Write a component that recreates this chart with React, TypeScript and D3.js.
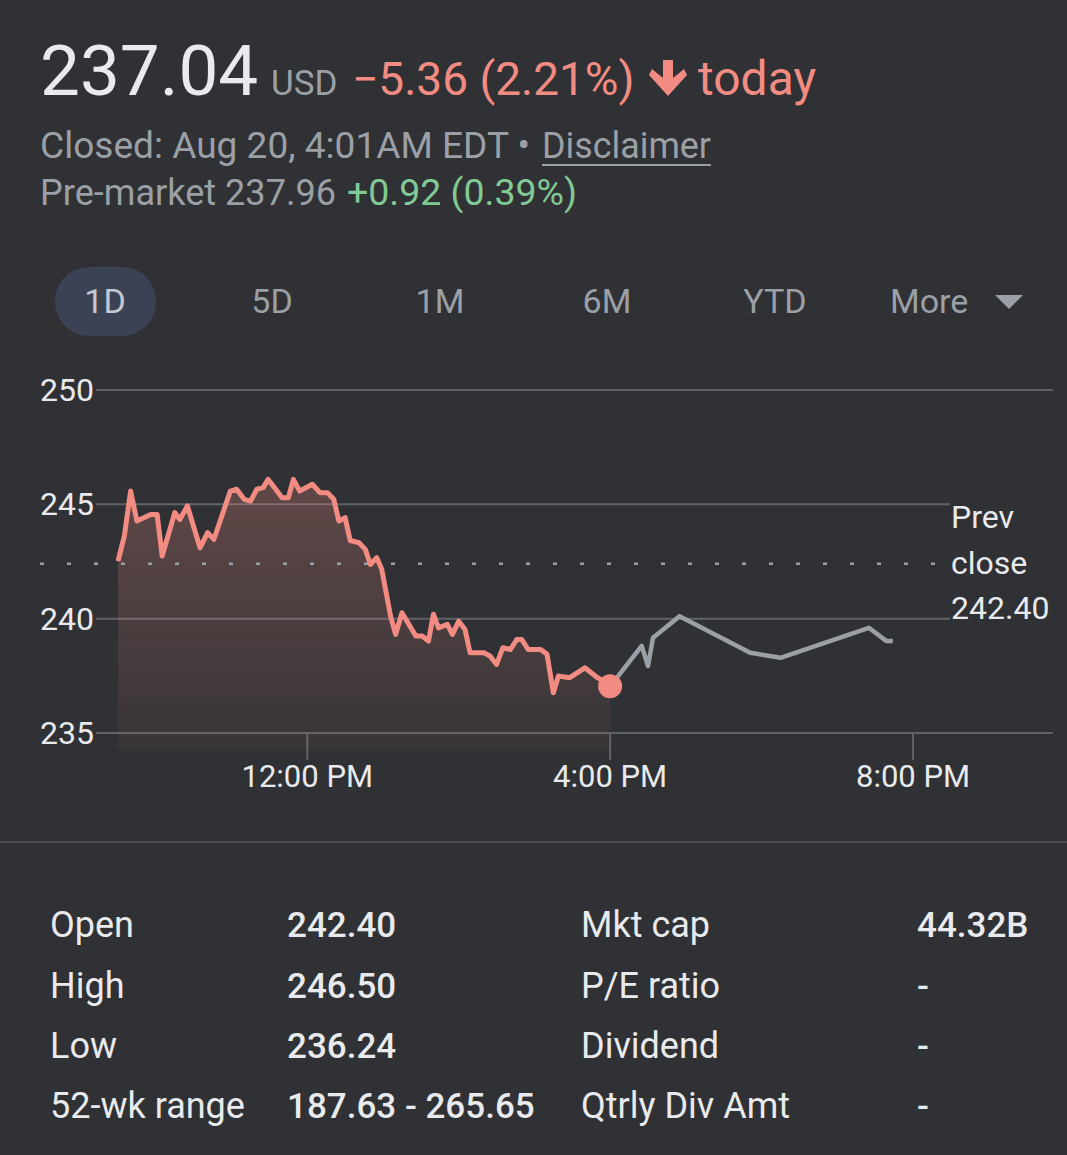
import React from "react";
import * as d3 from "d3";

// ---------- data ----------
const sessionTimes = [
  "9:30","9:35","9:40","9:45","9:56","10:01","10:05","10:15","10:19","10:25",
  "10:35","10:41","10:46","10:59","11:04","11:10","11:15","11:20","11:25","11:29",
  "11:35","11:40","11:45","11:49","11:54","12:04","12:10","12:16","12:21","12:25",
  "12:30","12:34","12:41","12:46","12:50","12:55","12:59","13:06","13:10","13:15",
  "13:19","13:26","13:31","13:36","13:40","13:44","13:51","13:55","14:00","14:05",
  "14:09","14:20","14:25","14:30","14:35","14:41","14:46","14:50","14:55","15:05",
  "15:10","15:15","15:19","15:28","15:40","15:50","15:59","16:00",
];
const sessionPrices = [
  242.52,243.61,245.58,244.27,244.56,244.56,242.74,244.64,244.34,244.93,
  243.10,243.76,243.47,245.58,245.66,245.22,245.14,245.66,245.73,246.09,
  245.66,245.29,245.29,246.09,245.58,245.88,245.51,245.51,245.22,244.27,
  244.42,243.42,243.32,243.03,242.37,242.67,242.16,240.11,239.31,240.26,
  239.89,239.24,239.24,239.02,240.19,239.60,239.75,239.31,239.89,239.53,
  238.51,238.51,238.36,238.00,238.73,238.65,239.09,239.09,238.65,238.65,
  238.44,236.76,237.49,237.42,237.85,237.42,237.12,237.04,
];
const afterTimes = ["16:00","16:25","16:30","16:34","16:55","17:51","18:15","19:25","19:39","19:44"];
const afterPrices = [237.04,238.81,237.93,239.17,240.11,238.51,238.29,239.60,239.02,239.02];

const prevClose = 242.40;
const yTicks = [235, 240, 245, 250];
const xTickTimes = ["12:00", "16:00", "20:00"];
const xTickLabels = ["12:00 PM", "4:00 PM", "8:00 PM"];
const tabs = ["1D", "5D", "1M", "6M", "YTD"];
const statLabelsLeft = ["Open", "High", "Low", "52-wk range"];
const statValuesLeft = ["242.40", "246.50", "236.24", "187.63 - 265.65"];
const statLabelsRight = ["Mkt cap", "P/E ratio", "Dividend", "Qtrly Div Amt"];
const statValuesRight = ["44.32B", "-", "-", "-"];

// ---------- style ----------
const BG = "#303134";
const WHITE = "#e8eaed";
const GRAY = "#9aa0a6";
const RED = "#f28b82";
const GREEN = "#81c995";
const GRID = "#5f6368";
const FONT = "Roboto, 'Noto Sans', sans-serif";

const W = 1067;
const H = 1155;

const toMin = (s: string) => {
  const [h, m] = s.split(":").map(Number);
  return h * 60 + m;
};

export default function App() {
  const x = d3.scaleLinear().domain([toMin("9:30"), toMin("20:00")]).range([118, 913]);
  const y = d3.scaleLinear().domain([235, 250]).range([733, 390]);
  const areaBottom = y(235) + 17;

  const session = sessionTimes.map((t, i) => ({ t: toMin(t), v: sessionPrices[i] }));
  const after = afterTimes.map((t, i) => ({ t: toMin(t), v: afterPrices[i] }));

  const line = d3
    .line<{ t: number; v: number }>()
    .x((d) => x(d.t))
    .y((d) => y(d.v));
  const area = d3
    .area<{ t: number; v: number }>()
    .x((d) => x(d.t))
    .y0(areaBottom)
    .y1((d) => y(d.v));

  const last = session[session.length - 1];
  const topY = y(d3.max(sessionPrices) as number);

  const tabCenters = [105, 272, 440, 607, 775];
  const statRows = [937, 998, 1058, 1118];

  return (
    <svg
      width={W}
      height={H}
      style={{ position: "absolute", left: 0, top: 0, display: "block" }}
      fontFamily={FONT}
    >
      <defs>
        <linearGradient id="fillGrad" gradientUnits="userSpaceOnUse" x1={0} x2={0} y1={topY} y2={areaBottom}>
          <stop offset="0%" stopColor={RED} stopOpacity={0.25} />
          <stop offset="100%" stopColor={RED} stopOpacity={0.04} />
        </linearGradient>
      </defs>
      <rect x={0} y={0} width={W} height={H} fill={BG} />

      {/* header */}
      <text x={40} y={95} fontSize={71} fill={WHITE}>237.04</text>
      <text x={271} y={95} fontSize={35} fill={GRAY}>USD</text>
      <text x={352} y={95} fontSize={46} fill={RED}>−5.36 (2.21%)</text>
      <path d="M663,60 L673,60 L673,78 L684,69 L687,75 L668,96 L649,75 L652,69 L663,78 Z" fill={RED} />
      <text x={698} y={95} fontSize={48} fill={RED}>today</text>

      <text x={40} y={158} fontSize={36} fill={GRAY} textLength={490} lengthAdjust="spacingAndGlyphs">
        Closed: Aug 20, 4:01AM EDT •
      </text>
      <text x={542} y={158} fontSize={36} fill={GRAY} textLength={169} lengthAdjust="spacingAndGlyphs">
        Disclaimer
      </text>
      <line x1={542} x2={711} y1={165} y2={165} stroke={GRAY} strokeWidth={2} />
      <text x={40} y={205} fontSize={36} fill={GRAY} textLength={296} lengthAdjust="spacingAndGlyphs">
        Pre-market 237.96
      </text>
      <text x={347} y={205} fontSize={36} fill={GREEN} textLength={230} lengthAdjust="spacingAndGlyphs">
        +0.92 (0.39%)
      </text>

      {/* tabs */}
      <rect x={55} y={267} width={101} height={69} rx={34} fill="#3b4254" />
      {tabs.map((t, i) => (
        <text key={t} x={tabCenters[i]} y={313} fontSize={34} fill={i === 0 ? "#c4c7cf" : GRAY} textAnchor="middle">
          {t}
        </text>
      ))}
      <text x={890} y={313} fontSize={34} fill={GRAY}>More</text>
      <path d="M995,295 L1023,295 L1009,309 Z" fill={GRAY} />

      {/* grid */}
      {yTicks.map((v) => (
        <g key={v}>
          <line
            x1={96}
            x2={v === 245 || v === 240 ? 950 : 1053}
            y1={y(v)}
            y2={y(v)}
            stroke={GRID}
            strokeWidth={2}
          />
          <text x={40} y={y(v) + 11} fontSize={32} fill={WHITE}>{v}</text>
        </g>
      ))}
      {xTickTimes.map((t, i) => (
        <g key={t}>
          <line x1={x(toMin(t))} x2={x(toMin(t))} y1={y(235)} y2={y(235) + 27} stroke={GRID} strokeWidth={2} />
          <text x={x(toMin(t))} y={787} fontSize={31} fill={WHITE} textAnchor="middle">
            {xTickLabels[i]}
          </text>
        </g>
      ))}

      {/* area + lines */}
      <path d={area(session) || ""} fill="url(#fillGrad)" />
      <line
        x1={40}
        x2={940}
        y1={y(prevClose)}
        y2={y(prevClose)}
        stroke={GRAY}
        strokeWidth={2.5}
        strokeDasharray="4 23"
      />
      <path d={line(after) || ""} fill="none" stroke={GRAY} strokeWidth={4.5} strokeLinejoin="round" />
      <path d={line(session) || ""} fill="none" stroke={RED} strokeWidth={5} strokeLinejoin="round" />
      <circle cx={x(last.t)} cy={y(last.v)} r={12} fill={RED} />

      <text x={951} fontSize={32} fill={WHITE}>
        <tspan x={951} y={528}>Prev</tspan>
        <tspan x={951} y={574}>close</tspan>
        <tspan x={951} y={619}>{prevClose.toFixed(2)}</tspan>
      </text>

      {/* separator */}
      <line x1={0} x2={W} y1={842} y2={842} stroke="#4a4c50" strokeWidth={2} />

      {/* stats */}
      {statRows.map((yy, i) => (
        <g key={i}>
          <text x={50} y={yy} fontSize={36} fill={WHITE}>{statLabelsLeft[i]}</text>
          <text x={287} y={yy} fontSize={35} fontWeight={500} fill={WHITE}>{statValuesLeft[i]}</text>
          <text x={581} y={yy} fontSize={36} fill={WHITE}>{statLabelsRight[i]}</text>
          <text x={917} y={yy} fontSize={35} fontWeight={500} fill={WHITE}>{statValuesRight[i]}</text>
        </g>
      ))}
    </svg>
  );
}
